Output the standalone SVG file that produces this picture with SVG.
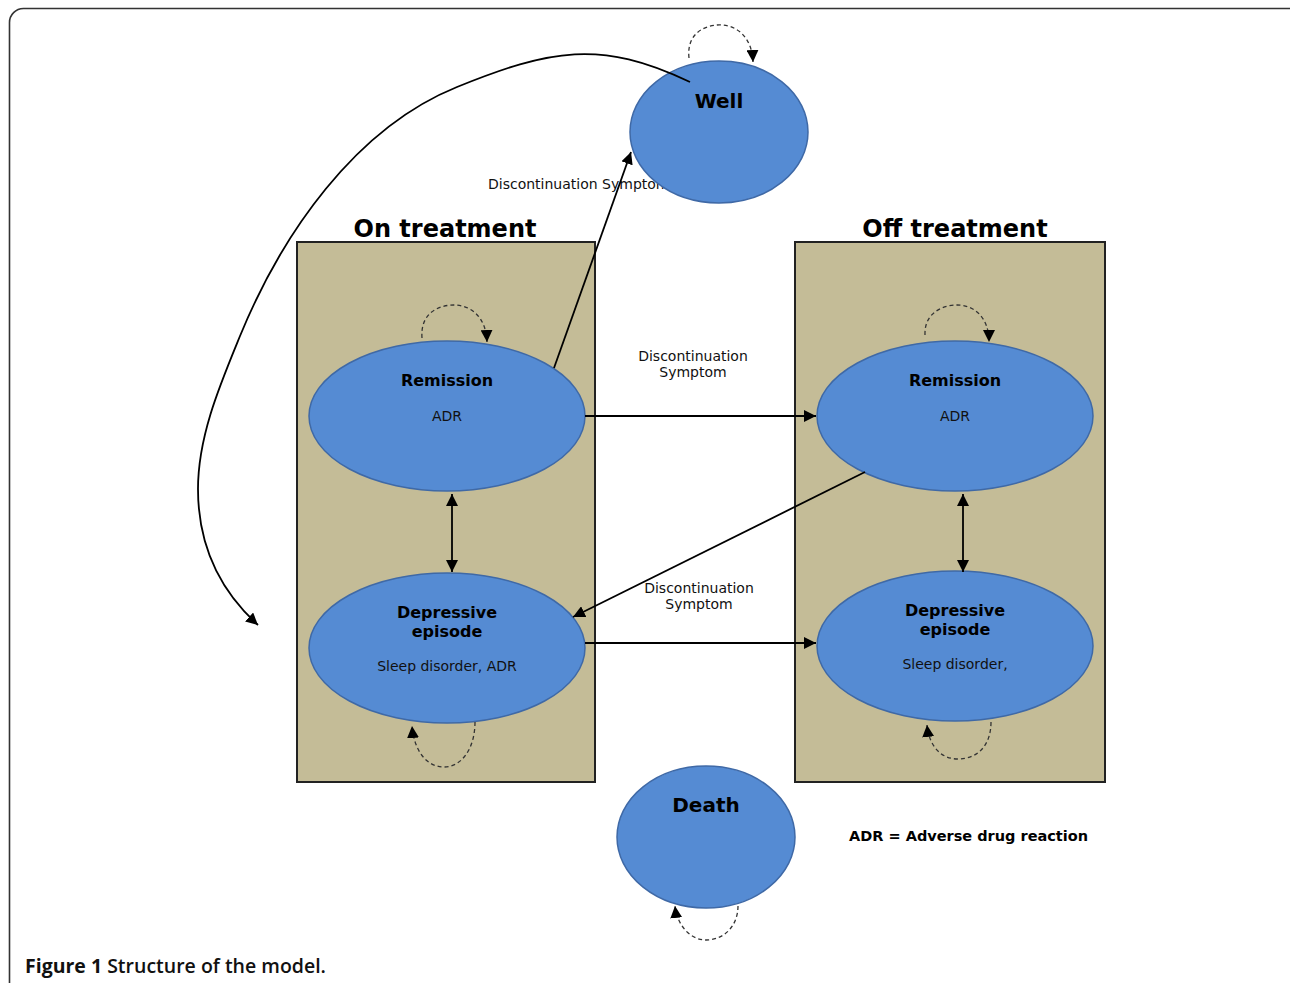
<svg xmlns="http://www.w3.org/2000/svg" width="1290" height="983" viewBox="0 0 1290 983">
<style>
.frame{fill:none;stroke:#333;stroke-width:1.6}
.box{fill:#C4BC97;stroke:#222;stroke-width:2}
.st{fill:#558BD3;stroke:#3F69A6;stroke-width:1.5}
.ttl{font-family:"DejaVu Sans",Verdana,sans-serif;font-weight:bold;font-size:24px;fill:#000;text-anchor:middle}
.nm{font-family:"DejaVu Sans",Verdana,sans-serif;font-weight:bold;font-size:16px;fill:#000;text-anchor:middle}
.big{font-family:"DejaVu Sans",Verdana,sans-serif;font-weight:bold;font-size:20px;fill:#000;text-anchor:middle}
.sub{font-family:"DejaVu Sans",Verdana,sans-serif;font-size:14px;fill:#111;text-anchor:middle}
.lbl{font-family:"DejaVu Sans",Verdana,sans-serif;font-size:14px;fill:#111}
.c{fill:none;stroke:#000;stroke-width:1.8}
.d{fill:none;stroke:#333;stroke-width:1.3;stroke-dasharray:4 3}
.cap{font-family:"Open Sans","Liberation Sans",sans-serif;font-size:19.5px;fill:#111}
</style>
<defs>
<marker id="ah" viewBox="0 0 10 10" refX="10" refY="5" markerWidth="12" markerHeight="12" markerUnits="userSpaceOnUse" orient="auto-start-reverse">
<path d="M0,0 L10,5 L0,10 z" fill="#000"/>
</marker>
</defs>
<rect class="frame" x="9.5" y="8.5" width="1300" height="1000" rx="14"/>
<g id="on-treatment">
<rect class="box" x="297" y="242" width="298" height="540"/>
<text class="ttl" x="445" y="237">On treatment</text>
</g>
<g id="off-treatment">
<rect class="box" x="795" y="242" width="310" height="540"/>
<text class="ttl" x="955" y="237">Off treatment</text>
</g>
<text class="lbl" x="488" y="189">Discontinuation  Symptom</text>
<g id="well">
<ellipse class="st" cx="719" cy="132" rx="89" ry="71"/>
<text class="big" x="719" y="108">Well</text>
</g>
<g id="remission-on">
<ellipse class="st" cx="447" cy="416" rx="138" ry="75"/>
<text class="nm" x="447" y="386">Remission</text>
<text class="sub" x="447" y="421">ADR</text>
</g>
<g id="depressive-on">
<ellipse class="st" cx="447" cy="648" rx="138" ry="75"/>
<text class="nm" x="447" y="618">Depressive</text>
<text class="nm" x="447" y="637">episode</text>
<text class="sub" x="447" y="671">Sleep disorder, ADR</text>
</g>
<g id="remission-off">
<ellipse class="st" cx="955" cy="416" rx="138" ry="75"/>
<text class="nm" x="955" y="386">Remission</text>
<text class="sub" x="955" y="421">ADR</text>
</g>
<g id="depressive-off">
<ellipse class="st" cx="955" cy="646" rx="138" ry="75"/>
<text class="nm" x="955" y="616">Depressive</text>
<text class="nm" x="955" y="635">episode</text>
<text class="sub" x="955" y="669">Sleep disorder,</text>
</g>
<g id="death">
<ellipse class="st" cx="706" cy="837" rx="89" ry="71"/>
<text class="big" x="706" y="812">Death</text>
</g>
<g id="connectors">
<path class="c" d="M690,82 C600,39 550,49.5 457,87 C355,128.1 281.7,234.3 240,336 C219.9,385 198,436 198,489 C198,544 217.3,588.1 258,625" marker-end="url(#ah)"/>
<line class="c" x1="554" y1="368" x2="631" y2="152" marker-end="url(#ah)"/>
<line class="c" x1="585" y1="416" x2="816" y2="416" marker-end="url(#ah)"/>
<line class="c" x1="865" y1="472" x2="573" y2="617" marker-end="url(#ah)"/>
<line class="c" x1="585" y1="643" x2="816" y2="643" marker-end="url(#ah)"/>
<line class="c" x1="452" y1="494" x2="452" y2="572" marker-start="url(#ah)" marker-end="url(#ah)"/>
<line class="c" x1="963" y1="494" x2="963" y2="572" marker-start="url(#ah)" marker-end="url(#ah)"/>
<path class="d" d="M689,58 C686,30 710,24 722,25 C738,26 752,38 753,62" marker-end="url(#ah)"/>
<path class="d" d="M422,338 C420,312 440,305 454,305 C470,305 486,316 487,342" marker-end="url(#ah)"/>
<path class="d" d="M925,335 C924,312 944,305 957,305 C973,305 989,316 989,342" marker-end="url(#ah)"/>
<path class="d" d="M475,722 C475,748 462,767 444,767 C426,767 414,750 412,726" marker-end="url(#ah)"/>
<path class="d" d="M991,722 C991,745 978,759 958,759 C940,759 929,745 927,725" marker-end="url(#ah)"/>
<path class="d" d="M738,906 C738,926 724,940 706,940 C690,940 677,925 675,906" marker-end="url(#ah)"/>
<text class="sub" x="693" y="361">Discontinuation</text>
<text class="sub" x="693" y="377">Symptom</text>
<text class="sub" x="699" y="593">Discontinuation</text>
<text class="sub" x="699" y="609">Symptom</text>
</g>
<text x="849" y="841" font-family="DejaVu Sans, Verdana, sans-serif" font-weight="bold" font-size="14.5" fill="#000">ADR = Adverse drug reaction</text>
<text class="cap" x="25" y="973"><tspan font-weight="bold">Figure 1</tspan><tspan font-weight="600"> Structure of the model.</tspan></text>
</svg>
